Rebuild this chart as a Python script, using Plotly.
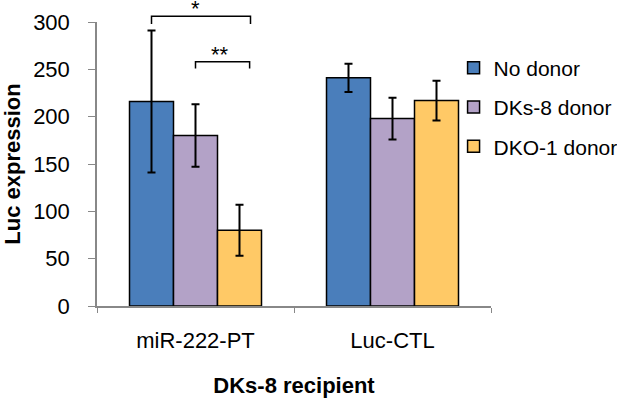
import plotly.graph_objects as go

categories = ["miR-222-PT", "Luc-CTL"]
series_names = ["No donor", "DKs-8 donor", "DKO-1 donor"]
no_donor = [216, 241]
no_donor_err = [75, 15]
dks8_donor = [180, 198]
dks8_donor_err = [33, 22]
dko1_donor = [80, 217]
dko1_donor_err = [27, 21]
colors = ["#4A7EBB", "#B3A2C7", "#FFC966"]
y_ticks = [0, 50, 100, 150, 200, 250, 300]

sig_labels = ["*", "**"]
sig_levels = [306, 258]

FONT = "Arial, Liberation Sans, sans-serif"
FS = 22
Y_MAX = 300

fig = go.Figure()
vals = [no_donor, dks8_donor, dko1_donor]
errs = [no_donor_err, dks8_donor_err, dko1_donor_err]
for i, name in enumerate(series_names):
    fig.add_trace(go.Bar(
        x=categories, y=vals[i], name=name, legendgroup=name,
        marker=dict(color=colors[i], line=dict(color="black", width=1.5)),
        error_y=dict(type="data", array=errs[i], color="black", thickness=2, width=4),
    ))

W, H = 617, 398
L, R, T, B = 97, 126, 22, 92

def ypaper(v):
    return v / Y_MAX

bar_w = (1 - 0.33) / 3
br = [
    (-bar_w, bar_w * 1.25, sig_levels[0], 8),
    (0.0, bar_w * 1.23, sig_levels[1], 7),
]
shapes = []
annotations = []
for (x0, x1, lev, drop), lab in zip(br, sig_labels):
    y = ypaper(lev)
    yd = ypaper(lev - drop)
    shapes.append(dict(type="path", xref="x", yref="paper",
                       path=f"M {x0},{yd} L {x0},{y} L {x1},{y} L {x1},{yd}",
                       line=dict(color="black", width=1.5)))
    annotations.append(dict(x=(x0 + x1) / 2 - (0.03 if lab == "*" else 0.015), y=y, xref="x", yref="paper",
                            text=lab, showarrow=False, yanchor="bottom",
                            yshift=-7, font=dict(size=FS, color="black", family=FONT)))

fig.update_layout(
    width=W, height=H,
    margin=dict(l=L, r=R, t=T, b=B, autoexpand=False),
    paper_bgcolor="white", plot_bgcolor="white",
    barmode="group", bargap=0.33, bargroupgap=0,
    font=dict(family=FONT, size=FS, color="black"),
    showlegend=True,
    legend=dict(x=0.905, xanchor="left", y=0.91, yanchor="top",
                font=dict(size=21, family=FONT, color="black"),
                tracegroupgap=9, bgcolor="rgba(0,0,0,0)"),
    shapes=shapes, annotations=annotations,
    xaxis=dict(
        showline=True, linecolor="#888888", linewidth=1.5,
        ticks="outside", tickson="boundaries", ticklen=5, tickcolor="#888888",
        tickfont=dict(size=FS, family=FONT, color="black"),
        ticklabelstandoff=14,
        title=dict(text="<b>DKs-8 recipient</b>", font=dict(size=FS, family=FONT), standoff=25),
        showgrid=False, automargin=False,
    ),
    yaxis=dict(
        range=[0, Y_MAX], tickvals=y_ticks,
        showline=True, linecolor="#888888", linewidth=1.5,
        ticks="outside", ticklen=7, tickcolor="#888888",
        tickfont=dict(size=FS, family=FONT, color="black"),
        ticklabelstandoff=14,
        title=dict(text="<b>Luc expression</b>", font=dict(size=FS, family=FONT), standoff=16),
        showgrid=False, zeroline=False, automargin=False,
    ),
)

fig.write_html("out.html", config={"displayModeBar": False},
               post_script="document.body.style.margin='0';document.body.style.overflow='hidden';")
